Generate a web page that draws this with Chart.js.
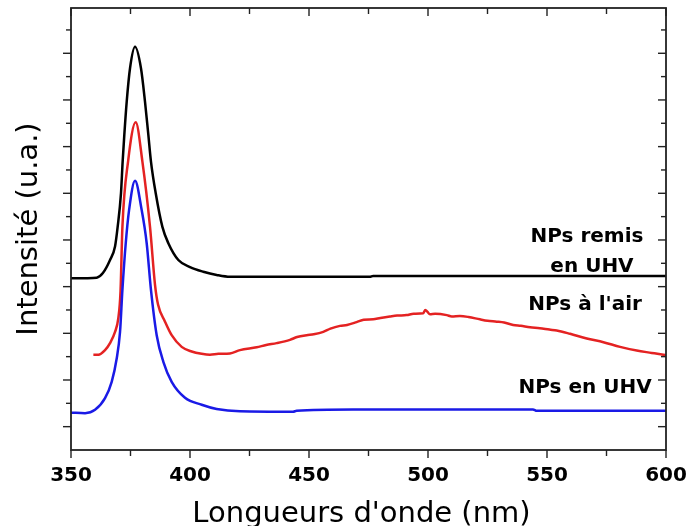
<!DOCTYPE html>
<html><head><meta charset="utf-8">
<script src="https://cdn.jsdelivr.net/npm/chart.js@4.4.1/dist/chart.umd.min.js"></script>
<style>html,body{margin:0;padding:0;background:#fff}</style>
</head><body>
<canvas id="c" width="689" height="526" style="display:block"></canvas>
<script>
// ---- data ----
const xTitle = "Longueurs d'onde (nm)";
const yTitle = "Intensité (u.a.)";
const xTickValues = [350, 400, 450, 500, 550, 600];

const blackX = [350, 357, 360.8, 363.4, 366.4, 368.5, 369.6, 371.0, 371.7, 372.4, 373.4, 374.8, 376.9, 379.4, 381.1, 382.5, 383.6, 385.6, 388.4, 390.9, 395.1, 400.0, 405.6, 411.2, 416.8, 475.6, 476.9, 600];
const blackY = [3.68, 3.68, 3.69, 3.79, 4.07, 4.36, 4.78, 5.50, 6.18, 6.75, 7.46, 8.18, 8.64, 8.18, 7.46, 6.75, 6.18, 5.50, 4.78, 4.43, 4.07, 3.92, 3.82, 3.75, 3.71, 3.71, 3.73, 3.73];

const redX = [359.4, 361.5, 364.3, 366.4, 368.5, 369.9, 370.8, 371.6, 374.0, 377.2, 380.0, 383.2, 385.3, 386.6, 389.5, 392.3, 396.5, 400.7, 404.9, 408.4, 411.9, 416.8, 421.0, 428.0, 432.0, 436.4, 442.0, 445.0, 449.0, 452.0, 456.0, 459.0, 463.0, 466.0, 470.0, 473.0, 477.0, 480.0, 484.0, 487.0, 491.0, 494.0, 498.0, 498.9, 500.8, 503.0, 507.9, 510.0, 513.4, 517.0, 521.8, 525.0, 528.9, 532.0, 535.8, 539.0, 542.9, 547.0, 551.0, 554.1, 559.7, 566.7, 573.7, 580.7, 587.7, 594.0, 598.9, 600];
const redY = [2.04, 2.04, 2.14, 2.29, 2.53, 2.83, 3.39, 4.78, 6.19, 7.02, 6.18, 4.78, 3.54, 3.11, 2.75, 2.46, 2.21, 2.11, 2.06, 2.04, 2.06, 2.07, 2.14, 2.20, 2.25, 2.29, 2.36, 2.42, 2.46, 2.48, 2.53, 2.60, 2.66, 2.68, 2.74, 2.79, 2.80, 2.83, 2.86, 2.88, 2.89, 2.92, 2.93, 3.00, 2.91, 2.92, 2.89, 2.86, 2.87, 2.85, 2.80, 2.77, 2.75, 2.73, 2.68, 2.66, 2.63, 2.61, 2.58, 2.56, 2.49, 2.39, 2.31, 2.21, 2.13, 2.08, 2.04, 2.03];

const blueX = [350, 355.9, 360.1, 364.3, 367.1, 369.2, 370.6, 371.6, 373.0, 374.4, 376.9, 379.7, 381.8, 383.6, 386.0, 388.8, 392.3, 397.9, 404.9, 411.2, 421.0, 443.3, 444.8, 468.5, 544.1, 545.7, 600];
const blueY = [0.80, 0.79, 0.86, 1.11, 1.46, 1.96, 2.53, 3.43, 4.43, 5.14, 5.77, 5.14, 4.43, 3.43, 2.46, 1.89, 1.46, 1.12, 0.97, 0.88, 0.83, 0.82, 0.84, 0.87, 0.87, 0.84, 0.84];

const seriesNames = ["NPs remis en UHV", "NPs à l'air", "NPs en UHV"];
const labelLines = [["NPs remis", "en UHV"], ["NPs à l'air"], ["NPs en UHV"]];
// -----------------------------------------------

const pts = (xs, ys) => xs.map((x, i) => ({x: x, y: ys[i]}));

// label anchors in data units (center x in nm, baseline y in intensity units)
const labelAnchors = [
  [{x: 566.8, y: 4.46}, {x: 568.9, y: 3.82}],
  [{x: 566.0, y: 3.00}],
  [{x: 566.0, y: 1.22}]
];

const framePlugin = {
  id: 'frame',
  afterDatasetsDraw(chart) {
    const {ctx, chartArea: a, scales: {x, y}} = chart;
    ctx.save();
    ctx.strokeStyle = '#222';
    ctx.lineWidth = 1.8;
    ctx.strokeRect(a.left, a.top, a.right - a.left, a.bottom - a.top);
    const seg = (x1, y1, x2, y2) => { ctx.beginPath(); ctx.moveTo(x1, y1); ctx.lineTo(x2, y2); ctx.stroke(); };
    ctx.lineWidth = 1.4;
    for (let v = 350; v <= 600; v += 25) {
      const px = x.getPixelForValue(v);
      const L = (v % 50 === 0) ? 8 : 6;
      seg(px, a.bottom, px, a.bottom + L);
      seg(px, a.top, px, a.top + L);
    }
    for (let k = 1; k <= 18; k++) {
      const v = k * 0.5;
      const py = y.getPixelForValue(v);
      const L = (k % 2 === 1) ? 8 : 5;
      seg(a.left - L, py, a.left, py);
      seg(a.right - L, py, a.right, py);
    }
    // series labels
    ctx.fillStyle = '#000';
    ctx.font = 'bold 20px "DejaVu Sans"';
    ctx.textAlign = 'center';
    ctx.textBaseline = 'alphabetic';
    labelLines.forEach((lines, i) => {
      lines.forEach((t, j) => {
        const an = labelAnchors[i][j];
        ctx.fillText(t, x.getPixelForValue(an.x), y.getPixelForValue(an.y));
      });
    });
    // x axis title
    ctx.font = '29px "DejaVu Sans"';
    ctx.fillText(xTitle, (a.left + a.right) / 2 - 7, 522);
    ctx.restore();
  }
};

new Chart(document.getElementById('c'), {
  type: 'line',
  data: {
    datasets: [
      {label: seriesNames[2], data: pts(blueX, blueY), borderColor: '#1a1ae6'},
      {label: seriesNames[1], data: pts(redX, redY), borderColor: '#e42222'},
      {label: seriesNames[0], data: pts(blackX, blackY), borderColor: '#000000'}
    ]
  },
  options: {
    responsive: false,
    animation: false,
    devicePixelRatio: 1,
    layout: {padding: {left: 0, right: 23, top: 8, bottom: 0}},
    plugins: {legend: {display: false}, tooltip: {enabled: false}},
    elements: {
      point: {radius: 0},
      line: {borderWidth: 2.5, cubicInterpolationMode: 'monotone', fill: false}
    },
    scales: {
      x: {
        type: 'linear', min: 350, max: 600,
        grid: {display: false, drawTicks: false},
        border: {display: false},
        afterBuildTicks: s => { s.ticks = xTickValues.map(v => ({value: v})); },
        ticks: {font: {family: 'DejaVu Sans', weight: 'bold', size: 20}, color: '#000', padding: 14, maxRotation: 0, autoSkip: false},
        title: {display: false, text: xTitle},
        afterFit: s => { s.height = 76; s.paddingLeft = 0; s.paddingRight = 0; }
      },
      y: {
        type: 'linear', min: 0, max: 9.47,
        ticks: {display: false},
        grid: {display: false, drawTicks: false},
        border: {display: false},
        title: {display: true, text: yTitle, font: {family: 'DejaVu Sans', size: 29, lineHeight: 1.2}, color: '#000', padding: {top: 12, bottom: 0}},
        afterFit: s => { s.width = 71; }
      }
    }
  },
  plugins: [framePlugin]
});
</script>
</body></html>
